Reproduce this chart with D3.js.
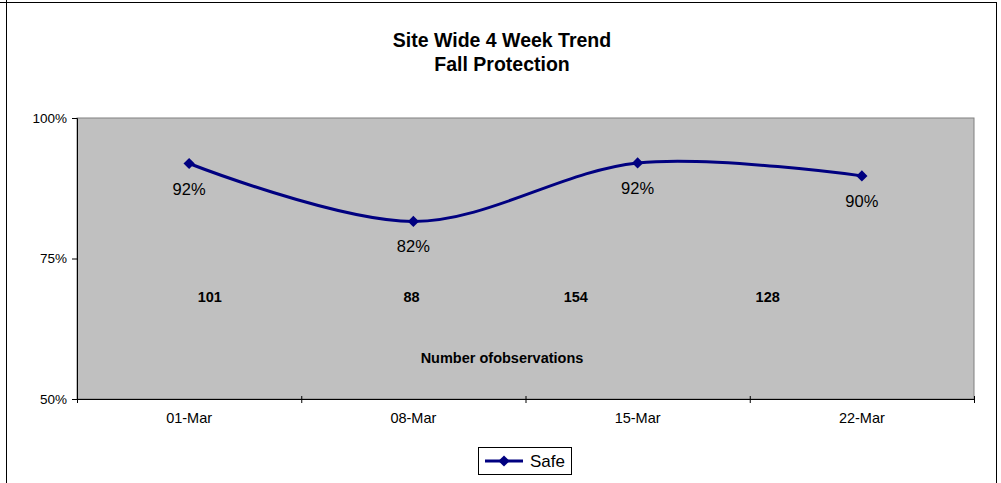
<!DOCTYPE html>
<html>
<head>
<meta charset="utf-8">
<script src="https://cdn.jsdelivr.net/npm/d3@7"></script>
<style>
  body { margin: 0; background: #fff; }
  svg { display: block; font-family: Arial, "Liberation Sans", sans-serif; }
</style>
</head>
<body>
<div id="chart"></div>
<script>
const categories = ["01-Mar", "08-Mar", "15-Mar", "22-Mar"];
const safeValues = [0.919, 0.816, 0.920, 0.897];
const obsCounts = [101, 88, 154, 128];
// where the observation text boxes sit, as a share of the plot width
const obsAnchors = [0.148, 0.373, 0.556, 0.770];
const yTicks = [0.5, 0.75, 1.0];

const width = 1001;
const height = 483;
const plot = {left: 77, right: 974, top: 118, bottom: 399};

const svg = d3.select('#chart')
    .append('svg')
    .attr('width', width)
    .attr('height', height);

// outer chart frame
svg.append('line').attr('x1', 0).attr('x2', 997).attr('y1', 2.5).attr('y2', 2.5).attr('stroke', '#000');
svg.append('line').attr('x1', 6.5).attr('x2', 6.5).attr('y1', 0).attr('y2', height).attr('stroke', '#000');
svg.append('line').attr('x1', 996.5).attr('x2', 996.5).attr('y1', 2).attr('y2', height).attr('stroke', '#000');

// title
const title = svg.append('text')
    .attr('text-anchor', 'middle')
    .attr('font-weight', 'bold')
    .attr('font-size', 19.5)
    .attr('fill', '#000');
title.append('tspan').attr('x', 502).attr('y', 47).text('Site Wide 4 Week Trend');
title.append('tspan').attr('x', 502).attr('y', 71).text('Fall Protection');

const x = d3.scaleBand()
    .domain(categories)
    .range([plot.left, plot.right]);

const y = d3.scaleLinear()
    .domain([0.5, 1.0])
    .range([plot.bottom, plot.top]);

const xPos = d => x(d) + x.bandwidth() / 2;

// plot area
svg.append('rect')
    .attr('x', plot.left)
    .attr('y', plot.top)
    .attr('width', plot.right - plot.left)
    .attr('height', plot.bottom - plot.top)
    .attr('fill', '#c0c0c0')
    .attr('stroke', '#808080')
    .attr('stroke-width', 1);

// y axis
const yAxis = svg.append('g')
    .attr('transform', `translate(${plot.left},0)`)
    .call(d3.axisLeft(y).tickValues(yTicks).tickFormat(d3.format('.0%')).tickSize(5).tickPadding(5));
yAxis.select('.domain').attr('stroke', '#000');
yAxis.selectAll('text').attr('font-size', 13.5).attr('fill', '#000').attr('font-family', 'Arial, "Liberation Sans", sans-serif');

// x axis
const xAxis = svg.append('g')
    .attr('transform', `translate(0,${plot.bottom})`)
    .call(d3.axisBottom(x).tickSize(0).tickPadding(14));
xAxis.select('.domain').attr('stroke', '#000');
xAxis.selectAll('text').attr('font-size', 14.5).attr('fill', '#000').attr('font-family', 'Arial, "Liberation Sans", sans-serif');

// category boundary ticks crossing the axis
const edges = categories.map(c => x(c)).concat([plot.right]);
svg.append('g').selectAll('line')
    .data(edges)
    .enter().append('line')
    .attr('x1', d => d + 0.5)
    .attr('x2', d => d + 0.5)
    .attr('y1', plot.bottom - 3)
    .attr('y2', plot.bottom + 4)
    .attr('stroke', '#000');

// smoothed line
const line = d3.line()
    .x((d, i) => xPos(categories[i]))
    .y(d => y(d))
    .curve(d3.curveCardinal);

svg.append('path')
    .datum(safeValues)
    .attr('d', line)
    .attr('fill', 'none')
    .attr('stroke', '#000080')
    .attr('stroke-width', 3);

const diamond = d3.symbol().type(d3.symbolDiamond2).size(80);

svg.append('g').selectAll('path')
    .data(safeValues)
    .enter().append('path')
    .attr('d', diamond)
    .attr('transform', (d, i) => `translate(${xPos(categories[i])},${y(d)})`)
    .attr('fill', '#000080');

// value labels
svg.append('g').selectAll('text')
    .data(safeValues)
    .enter().append('text')
    .attr('x', (d, i) => xPos(categories[i]))
    .attr('y', d => y(d) + 31)
    .attr('text-anchor', 'middle')
    .attr('font-size', 16.5)
    .attr('fill', '#000')
    .text(d => d3.format('.0%')(d));

// observation counts
const frac = d3.scaleLinear().domain([0, 1]).range([plot.left, plot.right]);
svg.append('g').selectAll('text')
    .data(obsCounts)
    .enter().append('text')
    .attr('x', (d, i) => frac(obsAnchors[i]))
    .attr('y', 302)
    .attr('text-anchor', 'middle')
    .attr('font-size', 14.5)
    .attr('font-weight', 'bold')
    .attr('fill', '#000')
    .text(d => d);

svg.append('text')
    .attr('x', 502)
    .attr('y', 363)
    .attr('text-anchor', 'middle')
    .attr('font-size', 14.5)
    .attr('font-weight', 'bold')
    .attr('fill', '#000')
    .text('Number ofobservations');

// legend
const legend = svg.append('g').attr('transform', 'translate(478,447)');
legend.append('rect')
    .attr('x', 0.5).attr('y', 0.5)
    .attr('width', 93).attr('height', 27)
    .attr('fill', '#fff')
    .attr('stroke', '#000');
legend.append('line')
    .attr('x1', 7).attr('x2', 45)
    .attr('y1', 14).attr('y2', 14)
    .attr('stroke', '#000080')
    .attr('stroke-width', 3);
legend.append('path')
    .attr('d', diamond)
    .attr('transform', 'translate(26,14)')
    .attr('fill', '#000080');
legend.append('text')
    .attr('x', 52).attr('y', 20)
    .attr('font-size', 17)
    .attr('fill', '#000')
    .text('Safe');
</script>
</body>
</html>
